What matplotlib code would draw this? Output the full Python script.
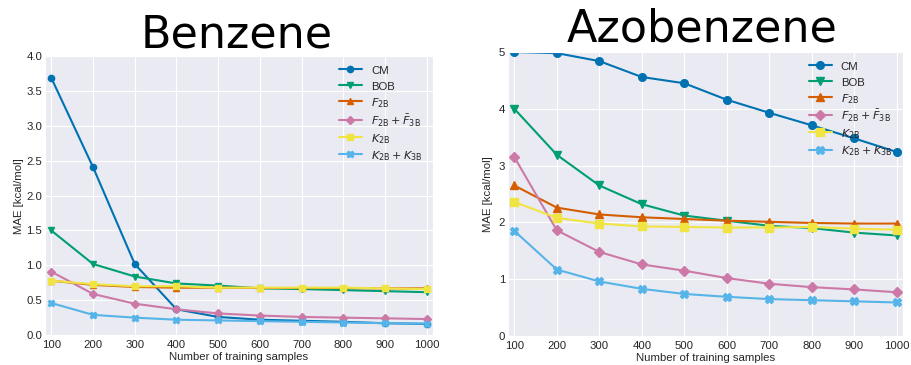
import matplotlib
matplotlib.use("Agg")
import matplotlib.pyplot as plt
import seaborn as sns

sns.set_style("darkgrid")
plt.rcParams["font.family"] = ["Liberation Sans", "DejaVu Sans"]

n_train = [100, 200, 300, 400, 500, 600, 700, 800, 900, 1000]

labels = ["CM", "BOB", r"$F_{\rm 2B}$", r"$F_{\rm 2B} + \bar{F}_{\rm 3B}$",
          r"$K_{\rm 2B}$", r"$K_{\rm 2B} + K_{\rm 3B}$"]
colors = ["#0072B2", "#009E73", "#D55E00", "#CC79A7", "#F0E442", "#56B4E9"]
markers = ["o", "v", "^", "D", "s", "X"]

# MAE in kcal/mol, benzene
benz_cm = [3.69, 2.41, 1.02, 0.37, 0.26, 0.22, 0.205, 0.19, 0.17, 0.16]
benz_bob = [1.50, 1.02, 0.84, 0.74, 0.71, 0.67, 0.66, 0.645, 0.63, 0.615]
benz_f2b = [0.78, 0.72, 0.69, 0.68, 0.68, 0.675, 0.675, 0.675, 0.67, 0.67]
benz_f2b_f3b = [0.91, 0.59, 0.45, 0.37, 0.31, 0.28, 0.26, 0.25, 0.24, 0.23]
benz_k2b = [0.78, 0.73, 0.70, 0.70, 0.68, 0.68, 0.68, 0.68, 0.67, 0.66]
benz_k2b_k3b = [0.46, 0.29, 0.25, 0.22, 0.21, 0.20, 0.19, 0.18, 0.17, 0.165]

# MAE in kcal/mol, azobenzene
azo_cm = [5.00, 4.98, 4.84, 4.56, 4.45, 4.16, 3.93, 3.71, 3.48, 3.24]
azo_bob = [4.00, 3.19, 2.65, 2.32, 2.12, 2.03, 1.94, 1.90, 1.82, 1.77]
azo_f2b = [2.65, 2.26, 2.14, 2.09, 2.06, 2.03, 2.01, 1.99, 1.98, 1.98]
azo_f2b_f3b = [3.15, 1.86, 1.48, 1.26, 1.15, 1.02, 0.92, 0.86, 0.82, 0.77]
azo_k2b = [2.36, 2.08, 1.98, 1.93, 1.92, 1.91, 1.91, 1.92, 1.89, 1.87]
azo_k2b_k3b = [1.85, 1.17, 0.96, 0.83, 0.74, 0.69, 0.65, 0.63, 0.61, 0.59]


def plot_panel(ax, series, ylim, yticks, ms, ylabelpad):
    for y, lab, c, m in zip(series, labels, colors, markers):
        ax.plot(n_train, y, color=c, marker=m, label=lab, lw=1.5, ms=ms)
    ax.set_xlim(85, 1015)
    ax.set_ylim(*ylim)
    ax.set_xticks(n_train)
    ax.set_yticks(yticks)
    ax.tick_params(labelsize=8.2, length=0)
    ax.tick_params(axis="x", pad=3.5)
    ax.tick_params(axis="y", pad=2)
    ax.set_xlabel("Number of training samples", fontsize=8.2, labelpad=1.5)
    ax.set_ylabel("MAE [kcal/mol]", fontsize=8.2, labelpad=ylabelpad)
    # equal row heights for plain and math labels
    ax.legend(loc="upper right", bbox_to_anchor=(0.992, 1.0), fontsize=8.2,
              frameon=False, handleheight=1.4, labelspacing=0.25,
              borderaxespad=0.25)


fig = plt.figure(figsize=(9.11, 3.65), dpi=100)

ax1 = fig.add_axes([0.0494, 0.082, 0.426, 0.764])
plot_panel(ax1,
           [benz_cm, benz_bob, benz_f2b, benz_f2b_f3b, benz_k2b, benz_k2b_k3b],
           (0, 4.0), [0, 0.5, 1, 1.5, 2, 2.5, 3, 3.5, 4], ms=4.5, ylabelpad=2)
ax1.set_yticklabels(["%.1f" % v for v in [0, 0.5, 1, 1.5, 2, 2.5, 3, 3.5, 4]])

ax2 = fig.add_axes([0.5576, 0.0795, 0.4336, 0.778])
plot_panel(ax2,
           [azo_cm, azo_bob, azo_f2b, azo_f2b_f3b, azo_k2b, azo_k2b_k3b],
           (0, 5), [0, 1, 2, 3, 4, 5], ms=5.5, ylabelpad=4)

# panel titles
fig.text(0.26, 0.871, "Benzene", fontsize=32, family="DejaVu Sans",
         color="black", ha="center", va="baseline")
fig.text(0.771, 0.885, "Azobenzene", fontsize=32, family="DejaVu Sans",
         color="black", ha="center", va="baseline")

fig.savefig("out.png", dpi=100)
